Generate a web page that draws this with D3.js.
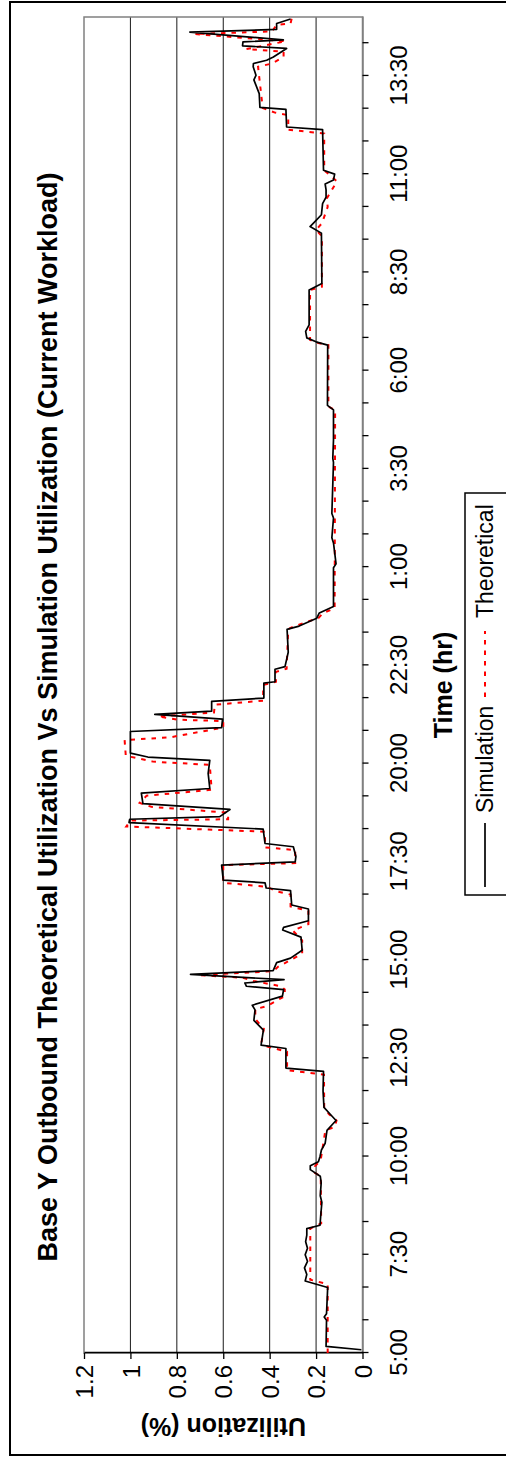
<!DOCTYPE html>
<html><head><meta charset="utf-8">
<script src="https://cdn.jsdelivr.net/npm/d3@7"></script>
<style>html,body{margin:0;padding:0;background:#fff;}svg{display:block;}</style>
</head><body>
<svg id="c" width="506" height="1459"></svg>
<script>
// time in minutes after 5:00, utilization values
const simT = [5,10,50,55,60,100,110,120,130,140,150,160,170,180,190,195,210,230,240,260,270,280,286,292,300,310,320,330,340,350,355,365,375,400,430,435,465,470,493,508,524,531,545,555,560,565,570,578,584,596,603,615,635,646,650,660,678,684,706,710,718,722,745,750,758,773,778,800,810,815,819,830,839,855,862,885,905,910,916,949,955,968,975,980,995,1000,1023,1025,1044,1048,1070,1105,1110,1122,1130,1140,1199,1205,1237,1245,1275,1282,1360,1366,1394,1440,1447,1539,1544,1550,1560,1570,1623,1633,1710,1720,1728,1738,1755,1765,1776,1785,1791,1800,1806,1868,1872,1899,1902,1923,1944,1951,1964,1969,1974,1979,1992,1996,2002,2005,2017,2021,2030,2037];
const simV = [0.005,0.157,0.155,0.165,0.155,0.15,0.247,0.24,0.25,0.237,0.247,0.237,0.245,0.24,0.24,0.183,0.18,0.175,0.182,0.178,0.182,0.225,0.225,0.19,0.183,0.177,0.161,0.157,0.153,0.127,0.114,0.14,0.166,0.17,0.168,0.33,0.33,0.437,0.427,0.468,0.463,0.475,0.345,0.34,0.5,0.507,0.338,0.741,0.385,0.37,0.31,0.26,0.265,0.344,0.34,0.233,0.233,0.305,0.31,0.415,0.42,0.6,0.607,0.29,0.287,0.298,0.42,0.428,1.006,1.003,0.615,0.571,0.946,0.953,0.658,0.665,0.658,0.925,1.0,1.0,0.607,0.603,0.895,0.65,0.65,0.425,0.425,0.377,0.377,0.334,0.32,0.325,0.273,0.197,0.186,0.125,0.125,0.114,0.125,0.132,0.125,0.132,0.125,0.128,0.125,0.125,0.151,0.15,0.2,0.24,0.245,0.23,0.23,0.175,0.177,0.226,0.204,0.177,0.172,0.157,0.157,0.161,0.125,0.12,0.168,0.172,0.327,0.33,0.442,0.445,0.468,0.459,0.471,0.47,0.413,0.384,0.327,0.517,0.515,0.341,0.744,0.37,0.37,0.31];

const theoT = [0,105,112,190,198,270,275,285,295,340,345,355,365,375,425,432,460,468,475,495,510,525,530,537,545,555,560,568,573,577,583,590,600,610,630,645,655,675,682,700,705,712,718,745,748,768,772,796,804,813,815,825,834,840,851,860,898,903,912,936,940,955,965,967,972,978,990,996,1020,1025,1040,1045,1105,1107,1117,1122,1130,1137,1440,1445,1539,1543,1547,1623,1628,1705,1715,1725,1750,1763,1789,1806,1862,1868,1890,1894,1901,1964,1969,1979,1987,1991,2003,2014,2018,2028,2030,2038];
const theoV = [0.15,0.15,0.225,0.225,0.178,0.18,0.205,0.205,0.18,0.16,0.12,0.112,0.145,0.165,0.166,0.325,0.325,0.41,0.435,0.425,0.462,0.462,0.41,0.375,0.335,0.335,0.35,0.47,0.515,0.705,0.384,0.363,0.31,0.26,0.26,0.30,0.233,0.233,0.31,0.31,0.37,0.413,0.60,0.60,0.29,0.29,0.42,0.42,1.018,1.0,0.579,0.579,0.91,0.96,0.93,0.65,0.658,0.903,1.02,1.025,0.83,0.6,0.6,0.795,0.88,0.64,0.636,0.428,0.428,0.373,0.373,0.327,0.32,0.312,0.235,0.19,0.17,0.12,0.118,0.147,0.147,0.2,0.226,0.226,0.175,0.175,0.2,0.175,0.15,0.154,0.11,0.165,0.165,0.32,0.32,0.377,0.43,0.45,0.39,0.34,0.34,0.5,0.331,0.723,0.39,0.37,0.31,0.305];

const timeTicks = d3.range(0, 2001, 50);
const timeLabels = ["5:00","7:30","10:00","12:30","15:00","17:30","20:00","22:30","1:00","3:30","6:00","8:30","11:00","13:30"];
const valueTicks = [0,0.2,0.4,0.6,0.8,1,1.2];
const valueLabels = ["0","0.2","0.4","0.6","0.8","1","1.2"];
const seriesNames = ["Simulation","Theoretical"];

const FONT = "'Liberation Sans', Arial, sans-serif";
const svg = d3.select("#c");
svg.append("rect").attr("width",506).attr("height",1459).attr("fill","#fff");
// draw chart in landscape frame (1459 x 506) then rotate into portrait
const g = svg.append("g").attr("transform","translate(0,1459) rotate(-90)");

// outer border
g.append("rect").attr("x",4).attr("y",10).attr("width",1453).attr("height",510)
  .attr("fill","none").attr("stroke","#000").attr("stroke-width",2);

const x = d3.scaleLinear().domain([0,2040]).range([106,1442]);
const y = d3.scaleLinear().domain([0,1.2]).range([362.5,84]);

// gridlines
g.append("g").selectAll("line").data(valueTicks.filter(v=>v>0 && v<1.2)).join("line")
  .attr("x1",x(0)).attr("x2",x(2040)).attr("y1",d=>y(d)).attr("y2",d=>y(d))
  .attr("stroke","#1a1a1a").attr("stroke-width",1);

// plot frame
g.append("rect").attr("x",x(0)).attr("y",y(1.2)).attr("width",x(2040)-x(0)).attr("height",y(0)-y(1.2))
  .attr("fill","none").attr("stroke","#808080").attr("stroke-width",1.5);

// time axis
const xAxis = d3.axisBottom(x).tickValues(timeTicks).tickSize(6).tickSizeOuter(0)
  .tickFormat(d => d % 150 === 0 ? timeLabels[d/150] : "");
const xa = g.append("g").attr("transform",`translate(0,${y(0)})`).call(xAxis);
xa.select(".domain").attr("stroke","#808080").attr("stroke-width",1.5);
xa.selectAll(".tick line").attr("stroke","#000").attr("stroke-width",1.3);
xa.selectAll(".tick text").attr("font-family",FONT).attr("font-size",24).attr("fill","#000")
  .attr("y",44).attr("dy",0);

// value axis
const yAxis = d3.axisLeft(y).tickValues(valueTicks).tickSize(6).tickSizeOuter(0)
  .tickFormat((d,i)=>valueLabels[i]);
const ya = g.append("g").attr("transform",`translate(${x(0)},0)`).call(yAxis);
ya.select(".domain").attr("stroke","#000").attr("stroke-width",1.5);
ya.selectAll(".tick line").attr("stroke","#000").attr("stroke-width",1.3);
ya.selectAll(".tick text").attr("font-family",FONT).attr("font-size",24).attr("fill","#000")
  .attr("x",-12).attr("dy","0.36em");

// lines
const line = d3.line().x(d=>x(d[0])).y(d=>y(d[1]));
const simData = simT.map((t,i)=>[t,simV[i]]);
const theoData = theoT.map((t,i)=>[t,theoV[i]]);
g.append("path").datum(theoData).attr("d",line).attr("fill","none")
  .attr("stroke","#ff0000").attr("stroke-width",2).attr("stroke-dasharray","4.5,6");
g.append("path").datum(simData).attr("d",line).attr("fill","none")
  .attr("stroke","#000").attr("stroke-width",1.7).attr("stroke-linejoin","round");

// titles
g.append("text").attr("x",742).attr("y",57).attr("text-anchor","middle")
  .attr("font-family",FONT).attr("font-weight","bold").attr("font-size",27)
  .text("Base Y Outbound Theoretical Utilization Vs Simulation Utilization (Current Workload)");
g.append("text").attr("transform",`translate(41,${(y(0)+y(1.2))/2}) rotate(-90)`).attr("text-anchor","middle")
  .attr("font-family",FONT).attr("font-weight","bold").attr("font-size",25).text("Utilization (%)");
g.append("text").attr("x",(x(0)+x(2040))/2).attr("y",452).attr("text-anchor","middle")
  .attr("font-family",FONT).attr("font-weight","bold").attr("font-size",25).text("Time (hr)");

// legend
const lg = g.append("g");
lg.append("rect").attr("x",564).attr("y",465).attr("width",402).attr("height",60)
  .attr("fill","#fff").attr("stroke","#000").attr("stroke-width",1.5);
const legItems = [
  {name:seriesNames[0], x0:572, x1:636, tx:646, color:"#000", dash:null, w:1.7},
  {name:seriesNames[1], x0:762, x1:828, tx:841, color:"#ff0000", dash:"4.5,6", w:2}
];
legItems.forEach(it=>{
  lg.append("line").attr("x1",it.x0).attr("x2",it.x1).attr("y1",485).attr("y2",485)
    .attr("stroke",it.color).attr("stroke-width",it.w).attr("stroke-dasharray",it.dash);
  lg.append("text").attr("x",it.tx).attr("y",493).attr("font-family",FONT).attr("font-size",23).text(it.name);
});
</script>
</body></html>
